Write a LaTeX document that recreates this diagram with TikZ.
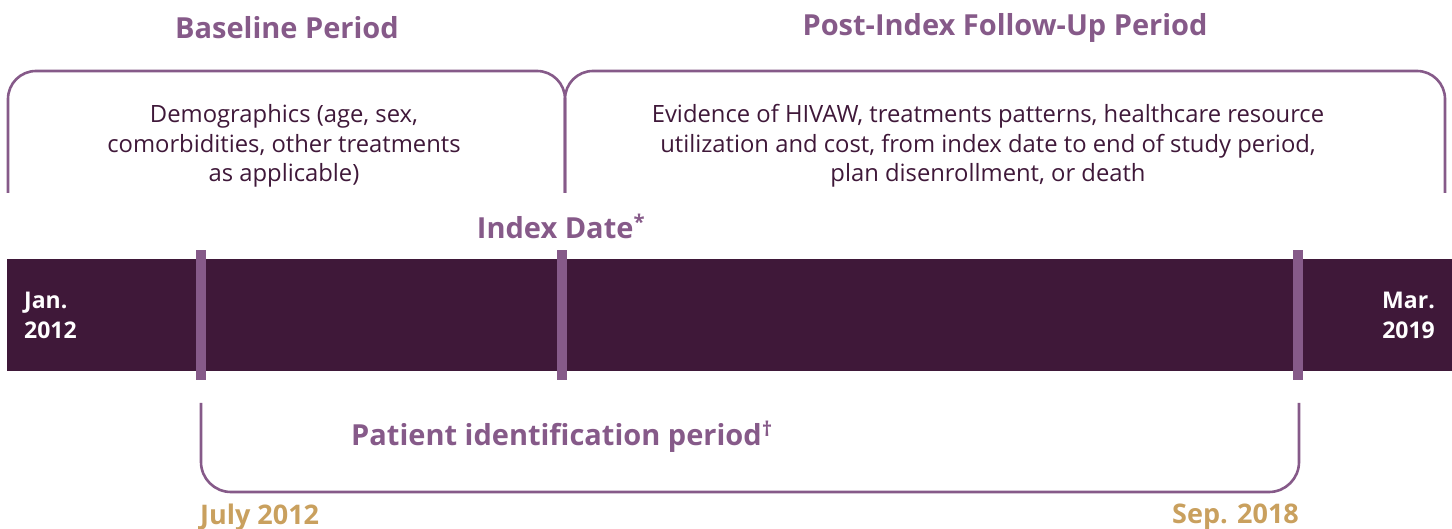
\documentclass[tikz,border=0pt]{standalone}
\usepackage{fontspec}
\setmainfont{Open Sans}
\definecolor{lilac}{HTML}{865A89}
\definecolor{plum}{HTML}{3F1839}
\definecolor{gold}{HTML}{C9A05E}
\begin{document}
\begin{tikzpicture}[x=1pt,y=-1pt,
  bracket/.style={draw=lilac,line width=2.6pt},
  title/.style={text=lilac,font=\fontsize{29}{32}\selectfont\bfseries,inner sep=0pt},
  body/.style={text=plum,font=\fontsize{23.8}{29.5}\selectfont,align=center,inner sep=0pt},
  datew/.style={text=white,font=\fontsize{23}{30}\selectfont\bfseries,inner sep=0pt},
  dateg/.style={text=gold,font=\fontsize{27}{30}\selectfont\bfseries,inner sep=0pt},
  tickbar/.style={fill=lilac,draw=none}]
\useasboundingbox (0,0) rectangle (1452,529);
% top brackets
\draw[bracket,rounded corners=28pt] (8,193) -- (8,71) -- (565,71) -- (565,193);
\draw[bracket,rounded corners=28pt] (565,193) -- (565,71) -- (1445,71) -- (1445,193);
% titles
\node[title] (base) at (287,28) {Baseline Period};
\node[title] (post) at (1005,28) {Post-Index Follow-Up Period};
% body texts
\node[body] (demo) at (284,146) {Demographics (age, sex,\\comorbidities, other treatments\\as applicable)};
\node[body] (evid) at (988,146) {Evidence of HIVAW, treatments patterns, healthcare resource\\utilization and cost, from index date to end of study period,\\plan disenrollment, or death};
% index date
\node[title] (idx) at (561,226) {Index Date\textsuperscript{*}};
% bar
\fill[plum] (7,259) rectangle (1452,371);
\fill[tickbar] (196,250) rectangle (206,380);
\fill[tickbar] (557,250) rectangle (567,380);
\fill[tickbar] (1293,250) rectangle (1303,380);
\node[datew,anchor=west,align=left] (jan) at (24,315) {Jan.\\2012};
\node[datew,anchor=east,align=right] (mar) at (1435,315) {Mar.\\2019};
% bottom bracket
\draw[bracket,rounded corners=30pt] (201,403) -- (201,492) -- (1299,492) -- (1299,403);
\node[title] (pat) at (562,437) {Patient identification period\textsuperscript{\dag}};
\node[dateg,anchor=west] (jul) at (200,517) {July 2012};
\node[dateg,anchor=east] (sep) at (1299,517) {Sep. 2018};
\end{tikzpicture}
\end{document}
